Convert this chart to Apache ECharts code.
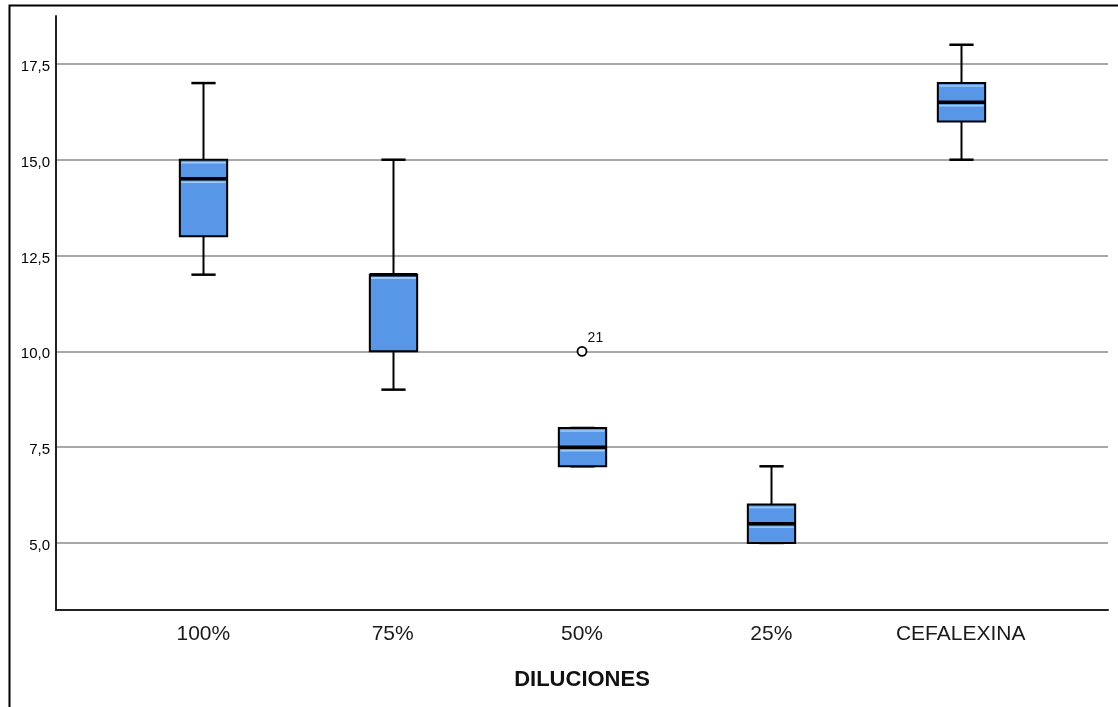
<!DOCTYPE html>
<html>
<head>
<meta charset="utf-8">
<script src="https://cdn.jsdelivr.net/npm/echarts@6/dist/echarts.min.js"></script>
<style>
html,body{margin:0;padding:0;background:#fff;}
#chart{width:1118px;height:707px;}
</style>
</head>
<body>
<div id="chart"></div>
<script>
// ---- data ----
const categories = ['100%', '75%', '50%', '25%', 'CEFALEXINA'];
const minVals    = [12, 9, 7, 5, 15];
const q1Vals     = [13, 10, 7, 5, 16];
const medianVals = [14.5, 12, 7.5, 5.5, 16.5];
const q3Vals     = [15, 12, 8, 6, 17];
const maxVals    = [17, 15, 8, 7, 18];
const outlierCat   = [2];
const outlierVals  = [10];
const outlierLabels = ['21'];
const yTicks = [5, 7.5, 10, 12.5, 15, 17.5];

const boxData = categories.map((c, i) => [i, minVals[i], q1Vals[i], medianVals[i], q3Vals[i], maxVals[i]]);
const outlierData = outlierCat.map((c, i) => ({ value: [c, outlierVals[i]], label: { formatter: outlierLabels[i] } }));

const chart = echarts.init(document.getElementById('chart'), null, { renderer: 'canvas' });

function renderBox(params, api) {
  const x = api.value(0);
  const pMin = api.coord([x, api.value(1)]);
  const pQ1 = api.coord([x, api.value(2)]);
  const pMed = api.coord([x, api.value(3)]);
  const pQ3 = api.coord([x, api.value(4)]);
  const pMax = api.coord([x, api.value(5)]);
  const unit = api.size([1, 0])[0];
  const hw = unit * 0.125;
  const cw = unit * 0.064;
  const cx = Math.round(pMin[0]) + 0.5;
  const black = '#000';
  const children = [];
  // whiskers
  children.push({ type: 'line', shape: { x1: cx, y1: pMax[1], x2: cx, y2: pQ3[1] }, style: { stroke: black, lineWidth: 2 } });
  children.push({ type: 'line', shape: { x1: cx, y1: pQ1[1], x2: cx, y2: pMin[1] }, style: { stroke: black, lineWidth: 2 } });
  children.push({ type: 'line', shape: { x1: cx - cw, y1: pMax[1], x2: cx + cw, y2: pMax[1] }, style: { stroke: black, lineWidth: 2.5 } });
  children.push({ type: 'line', shape: { x1: cx - cw, y1: pMin[1], x2: cx + cw, y2: pMin[1] }, style: { stroke: black, lineWidth: 2.5 } });
  // box
  children.push({ type: 'rect', shape: { x: cx - hw, y: pQ3[1], width: 2 * hw, height: pQ1[1] - pQ3[1] },
    style: { fill: '#5897e8', stroke: black, lineWidth: 2 } });
  // highlights
  children.push({ type: 'line', shape: { x1: cx - hw + 1.5, y1: pQ3[1] + 3, x2: cx + hw - 1.5, y2: pQ3[1] + 3 }, style: { stroke: '#9fccfb', lineWidth: 1.5 } });
  if (pMed[1] < pQ1[1] - 5) {
    children.push({ type: 'line', shape: { x1: cx - hw + 1.5, y1: pMed[1] + 3.5, x2: cx + hw - 1.5, y2: pMed[1] + 3.5 }, style: { stroke: '#9fccfb', lineWidth: 1.5 } });
  }
  // median
  children.push({ type: 'line', shape: { x1: cx - hw, y1: pMed[1], x2: cx + hw, y2: pMed[1] }, style: { stroke: black, lineWidth: 3.5 } });
  return { type: 'group', children: children };
}

const FONT = 'Liberation Sans, Arial, sans-serif';

const option = {
  backgroundColor: '#fff',
  animation: false,
  textStyle: { fontFamily: FONT },
  graphic: [
    { type: 'rect', shape: { x: 9.5, y: 5.5, width: 1200, height: 800 }, style: { fill: 'none', stroke: '#000', lineWidth: 2 }, z: -1 }
  ],
  grid: { left: 56, right: 10, top: 16, bottom: 97, containLabel: false },
  xAxis: {
    type: 'value',
    min: -0.778,
    max: 4.778,
    axisLine: { show: true, onZero: false, lineStyle: { color: '#222', width: 2 } },
    axisTick: { show: false, customValues: [0, 1, 2, 3, 4] },
    splitLine: { show: false },
    axisLabel: {
      customValues: [0, 1, 2, 3, 4],
      formatter: v => categories[Math.round(v)],
      color: '#1a1a1a', fontSize: 21, margin: 14,
      fontFamily: FONT
    },
    name: 'DILUCIONES',
    nameLocation: 'middle',
    nameGap: 59,
    nameTextStyle: { fontSize: 22, fontWeight: 'bold', color: '#111', fontFamily: FONT }
  },
  yAxis: {
    type: 'value',
    min: 3.25,
    max: 18.75,
    axisLine: { show: true, onZero: false, lineStyle: { color: '#222', width: 2 } },
    axisTick: { show: false, customValues: yTicks },
    splitLine: { show: true, lineStyle: { color: '#a8a8a8', width: 2 } },
    axisLabel: {
      customValues: yTicks,
      formatter: v => '{t|' + v.toFixed(1).replace('.', ',') + '}',
      margin: 6,
      rich: {
        t: { color: '#000', fontSize: 15, padding: [6, 0, 0, 0], fontFamily: FONT }
      }
    }
  },
  series: [
    {
      type: 'custom',
      renderItem: renderBox,
      data: boxData,
      encode: { x: 0, y: [1, 2, 3, 4, 5] },
      z: 3
    },
    {
      type: 'scatter',
      data: outlierData,
      symbol: 'circle',
      symbolSize: 9,
      itemStyle: { color: '#fff', borderColor: '#000', borderWidth: 1.8, opacity: 1 },
      label: {
        show: true, position: [11, -15], align: 'left', verticalAlign: 'top',
        fontSize: 14, color: '#111', fontFamily: FONT
      },
      z: 4
    }
  ]
};
chart.setOption(option);
</script>
</body>
</html>
